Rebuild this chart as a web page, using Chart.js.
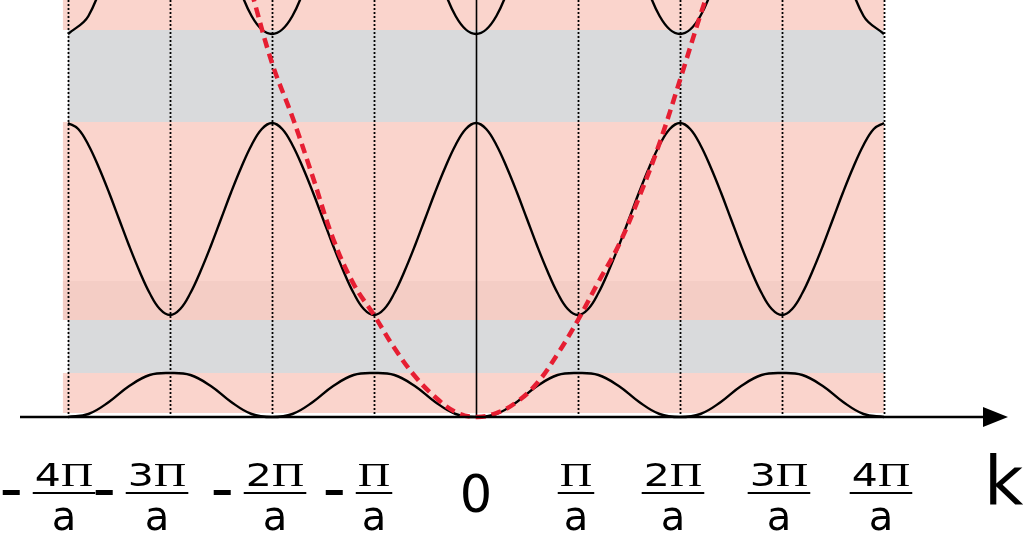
<!DOCTYPE html>
<html>
<head>
<meta charset="utf-8">
<script src="https://cdn.jsdelivr.net/npm/chart.js@4.4.1/dist/chart.umd.min.js"></script>
<style>
  html, body { margin: 0; padding: 0; background: #fff; }
  #wrap { width: 1024px; height: 539px; position: relative; }
</style>
</head>
<body>
<div id="wrap"><canvas id="bandChart"></canvas></div>
<script>
// k en unidades de pi/a, energia en unidades arbitrarias
const kGrid = [-4, -3.8, -3.6, -3.4, -3.2, -3, -2.8, -2.6, -2.4, -2.2, -2, -1.8, -1.6, -1.4, -1.2, -1, -0.8, -0.6, -0.4, -0.2,
               0, 0.2, 0.4, 0.6, 0.8, 1, 1.2, 1.4, 1.6, 1.8, 2, 2.2, 2.4, 2.6, 2.8, 3, 3.2, 3.4, 3.6, 3.8, 4];

const kFino = [-4, -3.9, -3.8, -3.7, -3.6, -3.5, -3.4, -3.3, -3.2, -3.1, -3, -2.9, -2.8, -2.7, -2.6, -2.5, -2.4, -2.3, -2.2, -2.1,
               -2, -1.9, -1.8, -1.7, -1.6, -1.5, -1.4, -1.3, -1.2, -1.1, -1, -0.9, -0.8, -0.7, -0.6, -0.5, -0.4, -0.3, -0.2, -0.1,
               0, 0.1, 0.2, 0.3, 0.4, 0.5, 0.6, 0.7, 0.8, 0.9, 1, 1.1, 1.2, 1.3, 1.4, 1.5, 1.6, 1.7, 1.8, 1.9,
               2, 2.1, 2.2, 2.3, 2.4, 2.5, 2.6, 2.7, 2.8, 2.9, 3, 3.1, 3.2, 3.3, 3.4, 3.5, 3.6, 3.7, 3.8, 3.9, 4];

const banda1 = [0, 3, 15, 31, 42, 44, 42, 31, 15, 3, 0, 3, 15, 31, 42, 44, 42, 31, 15, 3,
                0, 3, 15, 31, 42, 44, 42, 31, 15, 3, 0, 3, 15, 31, 42, 44, 42, 31, 15, 3, 0];

const banda2 = [294, 288, 272, 250, 225, 198, 171, 146, 124, 108, 102, 108, 124, 146, 171, 198, 225, 250, 272, 288,
                294, 288, 272, 250, 225, 198, 171, 146, 124, 108, 102, 108, 124, 146, 171, 198, 225, 250, 272, 288,
                294, 288, 272, 250, 225, 198, 171, 146, 124, 108, 102, 108, 124, 146, 171, 198, 225, 250, 272, 288,
                294, 288, 272, 250, 225, 198, 171, 146, 124, 108, 102, 108, 124, 146, 171, 198, 225, 250, 272, 288, 294];

const banda3 = [383, 401, 455, 520, 565, 580, 565, 520, 455, 401, 383, 401, 455, 520, 565, 580, 565, 520, 455, 401,
                383, 401, 455, 520, 565, 580, 565, 520, 455, 401, 383, 401, 455, 520, 565, 580, 565, 520, 455, 401, 383];

// electron libre (linea roja discontinua)
const libreK = [-2.2, -2, -1.8, -1.6, -1.4, -1.2, -1, -0.8, -0.6, -0.4, -0.2, 0, 0.2, 0.4, 0.6, 0.8, 1, 1.2, 1.4, 1.6, 1.8, 2, 2.2, 2.3];
const libreE = [425, 354, 300, 240, 178, 133, 102, 69, 41, 20, 5, 0, 4, 15, 34, 63, 97, 135, 172, 220, 274, 337, 402, 432];

// bandas permitidas, gaps y zona solapada
const bandasPermitidas = [[4, 44], [97, 295], [387, 440]];
const gapsProhibidos = [[44, 97], [295, 387]];
const solape = [97, 136];

const tickValores = [-4, -3, -2, -1, 0, 1, 2, 3, 4];
const tickSigno = ['-', '-', '-', '-', '', '', '', '', ''];
const tickNumer = ['4Π', '3Π', '2Π', 'Π', '0', 'Π', '2Π', '3Π', '4Π'];
const tickDenom = 'a';
const ejeTitulo = 'k';

function pts(xs, ys) { return xs.map((x, i) => ({ x: x, y: ys[i] })); }

const fondoBandas = {
  id: 'fondoBandas',
  beforeDatasetsDraw(chart) {
    const ctx = chart.ctx, sx = chart.scales.x, sy = chart.scales.y;
    const xl = sx.getPixelForValue(-4.05), xr = sx.getPixelForValue(4.0);
    const xg = sx.getPixelForValue(-4.0);
    ctx.save();
    ctx.fillStyle = '#FAD4CC';
    bandasPermitidas.forEach(b => {
      const y1 = sy.getPixelForValue(b[1]), y0 = sy.getPixelForValue(b[0]);
      ctx.fillRect(xl, y1, xr - xl, y0 - y1);
    });
    ctx.fillStyle = '#F4CDC5';
    let y1 = sy.getPixelForValue(solape[1]), y0 = sy.getPixelForValue(solape[0]);
    ctx.fillRect(xl, y1, xr - xl, y0 - y1);
    ctx.fillStyle = '#D9DADC';
    gapsProhibidos.forEach(g => {
      const a = sy.getPixelForValue(g[1]), b = sy.getPixelForValue(g[0]);
      ctx.fillRect(xg, a, xr - xg, b - a);
    });

    // lineas verticales
    const yBase = sy.getPixelForValue(0);
    ctx.strokeStyle = '#000';
    tickValores.forEach(k => {
      const x = Math.round(sx.getPixelForValue(k)) + 0.5;
      ctx.beginPath();
      if (k === 0) { ctx.setLineDash([]); ctx.lineWidth = 1.6; }
      else { ctx.setLineDash([2, 2]); ctx.lineWidth = 1.8; }
      ctx.moveTo(x, 0);
      ctx.lineTo(x, yBase);
      ctx.stroke();
    });
    ctx.restore();
  },
  afterDraw(chart) {
    const ctx = chart.ctx, sx = chart.scales.x, sy = chart.scales.y;
    const yBase = sy.getPixelForValue(0);
    ctx.save();
    ctx.fillStyle = '#000';
    // eje k con flecha
    ctx.fillRect(20, yBase - 1.25, 970, 2.5);
    ctx.beginPath();
    ctx.moveTo(983, yBase - 10);
    ctx.lineTo(1008, yBase);
    ctx.lineTo(983, yBase + 10);
    ctx.closePath();
    ctx.fill();

    const ajuste = [-4, -13, 3, 0, 0, -2, -7, -3, -3];
    tickValores.forEach((k, i) => {
      const cx = sx.getPixelForValue(k) + ajuste[i];
      if (tickNumer[i] === '0') {
        ctx.font = '51px "DejaVu Sans"';
        ctx.textAlign = 'center';
        ctx.textBaseline = 'alphabetic';
        ctx.fillText('0', cx, 512);
        return;
      }
      const dig = tickNumer[i].replace('Π', '');
      ctx.textAlign = 'left';
      ctx.textBaseline = 'alphabetic';
      ctx.font = '41px "DejaVu Sans"';
      const wD = ctx.measureText(dig).width;
      ctx.font = '45px "Liberation Serif"';
      const wP = ctx.measureText('Π').width;
      const total = wD + wP;
      ctx.save();
      ctx.translate(cx - total / 2, 486);
      ctx.scale(1, 0.76);
      ctx.font = '41px "DejaVu Sans"';
      ctx.fillText(dig, 0, 0);
      ctx.font = '45px "Liberation Serif"';
      ctx.fillText('Π', wD, 0);
      ctx.restore();

      ctx.font = '40px "DejaVu Sans"';
      const wA = ctx.measureText(tickDenom).width;
      const w = Math.max(total, wA) + 4;
      ctx.fillRect(cx - w / 2, 492, w, 2);
      ctx.textAlign = 'center';
      ctx.fillText(tickDenom, cx, 530);
      if (tickSigno[i] === '-') {
        ctx.fillRect(cx - w / 2 - 13 - 17, 490, 17, 5);
      }
    });

    ctx.font = '68px "DejaVu Sans"';
    ctx.textAlign = 'left';
    ctx.fillText(ejeTitulo, 984, 505);
    ctx.restore();
  }
};

const negro = { borderColor: '#000', borderWidth: 2.4, pointRadius: 0, tension: 0.4, fill: false };

new Chart(document.getElementById('bandChart').getContext('2d'), {
  type: 'line',
  data: {
    datasets: [
      {
        label: 'Electron libre',
        data: pts(libreK, libreE),
        borderColor: '#E61E32',
        borderWidth: 4.5,
        borderDash: [10, 6],
        pointRadius: 0,
        tension: 0.4,
        fill: false,
        order: 0
      },
      Object.assign({ label: 'Banda 1', data: pts(kGrid, banda1), order: 1 }, negro),
      Object.assign({ label: 'Banda 2', data: pts(kFino, banda2), order: 1 }, negro),
      Object.assign({ label: 'Banda 3', data: pts(kGrid, banda3), order: 1 }, negro)
    ]
  },
  options: {
    responsive: true,
    maintainAspectRatio: false,
    animation: false,
    layout: { padding: 0 },
    plugins: { legend: { display: false }, tooltip: { enabled: false } },
    scales: {
      x: { type: 'linear', min: -4.667, max: 5.373, display: false },
      y: { type: 'linear', min: -122, max: 417, display: false }
    }
  },
  plugins: [fondoBandas]
});
</script>
</body>
</html>
